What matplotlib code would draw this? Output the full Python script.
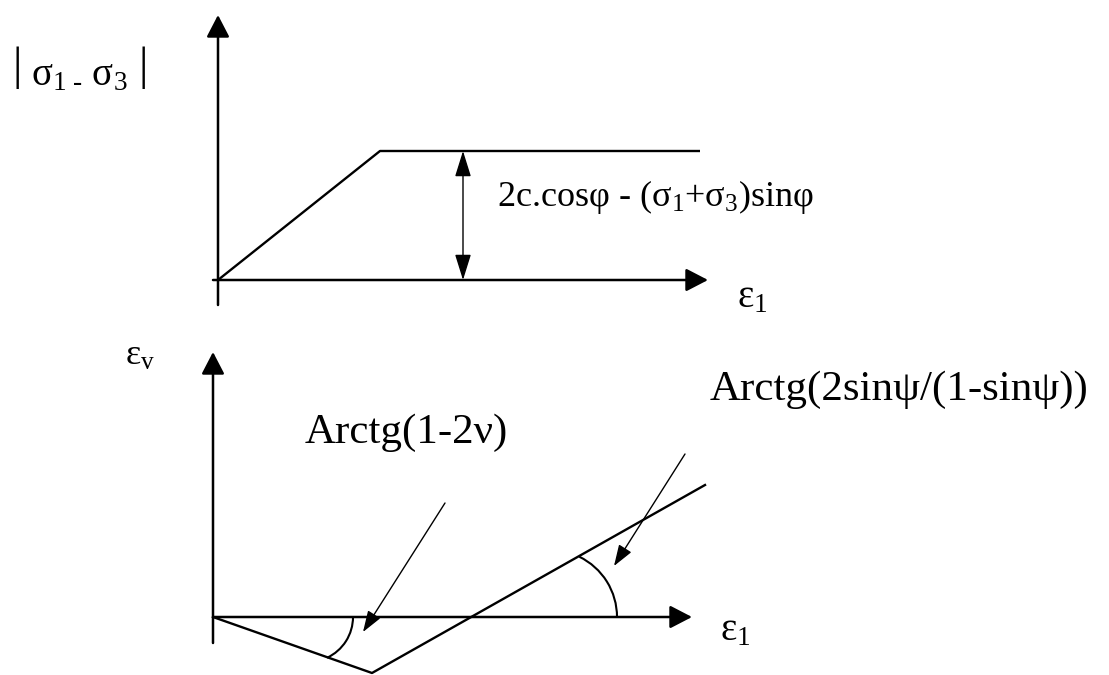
import matplotlib
matplotlib.use("Agg")
import matplotlib.pyplot as plt
from matplotlib.patches import Arc

plt.rcParams['font.family'] = ['Liberation Serif', 'DejaVu Serif']
plt.rcParams['mathtext.fontset'] = 'custom'
plt.rcParams['mathtext.rm'] = 'Liberation Serif'
plt.rcParams['mathtext.it'] = 'Liberation Serif:italic'
plt.rcParams['mathtext.default'] = 'rm'

# top diagram: |s1 - s3| against e1 (page units, y downwards)
top_origin = (218, 280)
top_axis_ends = (708, 15)
stress_x = [218, 380, 700]
stress_y = [280, 151, 151]
plateau_arrow_x = 463

# bottom diagram: ev against e1
bot_origin = (213, 617)
bot_axis_ends = (692, 352)
vol_x = [213, 372, 705]
vol_y = [617, 673, 485]

# pointers for the two angle labels: (start, tip)
pointer_nu = ((445, 503), (363, 632))
pointer_psi = ((685, 454), (614, 566))

fig = plt.figure(figsize=(11.09, 6.75), dpi=100)
ax = fig.add_axes([0, 0, 1, 1])
ax.set_xlim(0, 1109)
ax.set_ylim(675, 0)
ax.set_aspect('equal')
ax.axis('off')

def axis_arrow(start, end):
    ax.annotate('', xy=end, xytext=start,
                arrowprops=dict(arrowstyle='-|>,head_length=13.5,head_width=7',
                                mutation_scale=1, lw=1.8, color='black',
                                shrinkA=0, shrinkB=0))

def thin_arrow(start, end, style='-|>,head_length=13,head_width=4.5'):
    ax.annotate('', xy=end, xytext=start,
                arrowprops=dict(arrowstyle=style, mutation_scale=1, lw=1.0,
                                color='black', shrinkA=0, shrinkB=0))

# top axes
axis_arrow((top_origin[0], 305), (top_origin[0], top_axis_ends[1]))
axis_arrow((top_origin[0] - 5, top_origin[1]), (top_axis_ends[0], top_origin[1]))
ax.plot(stress_x, stress_y, color='black', lw=1.7, solid_capstyle='butt')
thin_arrow((plateau_arrow_x, stress_y[-1]), (plateau_arrow_x, top_origin[1]),
           style='<|-|>,head_length=16,head_width=5')

# bottom axes
axis_arrow((bot_origin[0], 643), (bot_origin[0], bot_axis_ends[1]))
axis_arrow((bot_origin[0], bot_origin[1]), (bot_axis_ends[0], bot_origin[1]))
ax.plot(vol_x, vol_y, color='black', lw=1.7)

# angle marks
ax.add_patch(Arc((308, 617), 90, 90, theta1=0, theta2=65, color='black', lw=1.5))
ax.add_patch(Arc((550, 617), 134, 134, theta1=-64, theta2=0, color='black', lw=1.5))
thin_arrow(*pointer_nu)
thin_arrow(*pointer_psi)

# labels
ax.text(12, 68, '|', fontsize=34, ha='left', va='center')
ax.text(31, 85, r'$σ_{1\ \text{-}}\ σ_3$', fontsize=28, ha='left', va='baseline')
ax.text(138, 68, '|', fontsize=34, ha='left', va='center')
ax.text(497, 197, r'2c.cosφ - (σ$_1$+σ$_3$)sinφ', fontsize=26, ha='left', va='center')
ax.text(737, 298, r'ε$_1$', fontsize=28, ha='left', va='center')
ax.text(125, 356, r'ε$_{\mathrm{v}}$', fontsize=26, ha='left', va='center')
ax.text(305, 433, 'Arctg(1-2ν)', fontsize=31, ha='left', va='center')
ax.text(710, 390, 'Arctg(2sinψ/(1-sinψ))', fontsize=31, ha='left', va='center')
ax.text(720, 631, r'ε$_1$', fontsize=28, ha='left', va='center')

fig.savefig('out.png', dpi=100)
